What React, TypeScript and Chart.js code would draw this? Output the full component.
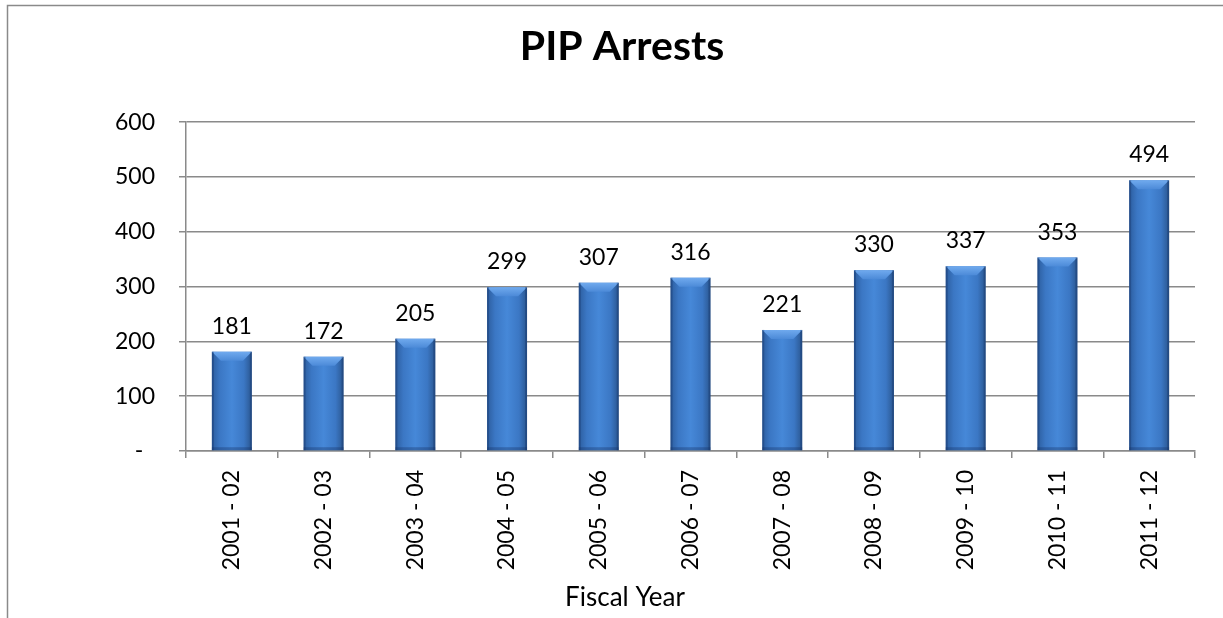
import React, { useEffect, useRef } from "react";
import { Chart, registerables } from "chart.js";

Chart.register(...registerables);

const categories = [
  "2001 - 02", "2002 - 03", "2003 - 04", "2004 - 05", "2005 - 06", "2006 - 07",
  "2007 - 08", "2008 - 09", "2009 - 10", "2010 - 11", "2011 - 12",
];
const arrests = [181, 172, 205, 299, 307, 316, 221, 330, 337, 353, 494];
const yTicks = [0, 100, 200, 300, 400, 500, 600];
const chartTitle = "PIP Arrests";
const xTitle = "Fiscal Year";

const FONT = "Lato, 'Open Sans', sans-serif";
const GRID = "#8a8a8a";

const frame = {
  id: "frame",
  beforeDraw(chart: any) {
    const c = chart.ctx;
    c.save();
    c.fillStyle = "#ffffff";
    c.fillRect(0, 0, chart.width, chart.height);
    c.strokeStyle = "#8a8a8a";
    c.lineWidth = 1.5;
    c.beginPath();
    c.moveTo(7.5, chart.height);
    c.lineTo(7.5, 5.5);
    c.lineTo(chart.width, 5.5);
    c.stroke();
    c.restore();
  },
  afterDraw(chart: any) {
    const c = chart.ctx;
    c.save();
    c.fillStyle = "#000000";
    c.font = `26px ${FONT}`;
    c.textAlign = "center";
    c.textBaseline = "alphabetic";
    c.fillText(xTitle, 625, 606);
    c.restore();
  },
};

const bevelAndLabels = {
  id: "bevelAndLabels",
  afterDatasetsDraw(chart: any) {
    const c = chart.ctx;
    const meta = chart.getDatasetMeta(0);
    const data = chart.data.datasets[0].data;
    c.save();
    meta.data.forEach((bar: any, i: number) => {
      const { x, y, base, width } = bar.getProps(["x", "y", "base", "width"], true);
      const l = x - width / 2;
      const r = x + width / 2;
      const b = 9;
      const tg = c.createLinearGradient(0, y, 0, y + b);
      tg.addColorStop(0, "#70aaee");
      tg.addColorStop(1, "#4c8ad8");
      c.fillStyle = tg;
      c.beginPath();
      c.moveTo(l, y);
      c.lineTo(r, y);
      c.lineTo(r - b, y + b);
      c.lineTo(l + b, y + b);
      c.closePath();
      c.fill();
      c.fillStyle = "rgba(20,50,100,0.35)";
      c.fillRect(l, y, 2, base - y);
      c.fillRect(r - 2, y, 2, base - y);
      c.fillRect(l, base - 3, width, 3);
      c.fillStyle = "#000000";
      c.font = `23px ${FONT}`;
      c.textAlign = "center";
      c.textBaseline = "alphabetic";
      c.fillText(String(data[i]), x, y - 18);
    });
    c.restore();
  },
};

export default function App() {
  const ref = useRef<HTMLCanvasElement>(null);
  useEffect(() => {
    if (!ref.current) return;
    const chart = new Chart(ref.current, {
      type: "bar",
      data: {
        labels: categories,
        datasets: [
          {
            data: arrests,
            barPercentage: 0.436,
            categoryPercentage: 1,
            backgroundColor: (ctx: any) => {
              const ch = ctx.chart;
              const xs = ch.scales && ch.scales.x;
              if (!xs || !ch.chartArea) return "#3b78c6";
              const cx = xs.getPixelForValue(ctx.dataIndex);
              const w = (ch.chartArea.width / categories.length) * 0.436;
              const g = ch.ctx.createLinearGradient(cx - w / 2, 0, cx + w / 2, 0);
              g.addColorStop(0, "#2c5d9e");
              g.addColorStop(0.2, "#3b77c4");
              g.addColorStop(0.5, "#4688d8");
              g.addColorStop(0.8, "#3b77c4");
              g.addColorStop(1, "#2a568f");
              return g;
            },
            borderWidth: 0,
          },
        ],
      },
      options: {
        responsive: false,
        animation: false,
        layout: { padding: { left: 49, right: 28, top: 0, bottom: 0 } },
        plugins: {
          legend: { display: false },
          tooltip: { enabled: false },
          title: {
            display: true,
            text: chartTitle,
            color: "#000000",
            font: { family: FONT, size: 41, weight: "bold", lineHeight: 1.2 },
            padding: { top: 22, bottom: 51 },
          },
        },
        scales: {
          x: {
            grid: {
              offset: true,
              drawOnChartArea: false,
              drawTicks: true,
              tickLength: 7,
              color: GRID,
              lineWidth: 1.5,
            },
            border: { display: true, color: GRID, width: 1.5 },
            ticks: {
              color: "#000000",
              font: { family: FONT, size: 23 },
              minRotation: 90,
              maxRotation: 90,
              padding: 12,
              autoSkip: false,
            },
            afterFit: (s: any) => {
              s.height = 167;
            },
          },
          y: {
            min: 0,
            max: 600,
            afterBuildTicks: (s: any) => {
              s.ticks = yTicks.map((v) => ({ value: v }));
            },
            grid: {
              color: GRID,
              lineWidth: 1.5,
              tickLength: 7,
              drawTicks: true,
            },
            border: { display: true, color: GRID, width: 1.5 },
            ticks: {
              color: "#000000",
              font: { family: FONT, size: 23 },
              padding: 24,
              callback: (v: any) => (Number(v) === 0 ? "-\u00a0\u00a0" : String(v)),
            },
            afterFit: (s: any) => {
              s.width = 137;
            },
          },
        },
      },
      plugins: [frame, bevelAndLabels],
    });
    return () => chart.destroy();
  }, []);
  return (
    <div style={{ position: "absolute", left: 0, top: 0, width: 1223, height: 618 }}>
      <canvas ref={ref} width={1223} height={618} style={{ display: "block" }} />
    </div>
  );
}
